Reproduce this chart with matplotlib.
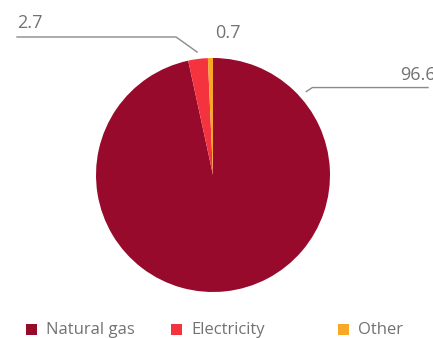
import matplotlib.pyplot as plt
import matplotlib.patches as mpatches
import numpy as np

plt.rcParams['font.family'] = ['Open Sans', 'DejaVu Sans']

# energy consumption shares, %
sources = ['Natural gas', 'Electricity', 'Other']
shares = [96.6, 2.7, 0.7]
colors = ['#970A2C', '#F5333F', '#F9A825']

W, H = 433, 338
fig = plt.figure(figsize=(W / 100, H / 100), dpi=100)
ax = fig.add_axes([0, 0, 1, 1])

cx, cy, r = 213, H - 175, 117
wedges, _ = ax.pie(shares, colors=colors, startangle=90, counterclock=False,
                   center=(cx, cy), radius=r, frame=True,
                   wedgeprops=dict(linewidth=0))
ax.set_xlim(0, W)
ax.set_ylim(0, H)
ax.set_aspect('equal')
ax.axis('off')

grey = '#727272'
line_kw = dict(color='#8a8a8a', lw=1)

# Natural gas label: leader line to the right
a = np.deg2rad(41.8)
x0, y0 = cx + 1.07 * r * np.cos(a), cy + 1.07 * r * np.sin(a)
ax.plot([x0, x0 + 6, 428], [y0, y0 + 4, y0 + 4], **line_kw)
ax.text(400, y0 + 8, f'{shares[0]:.1f}', color=grey, fontsize=13,
        ha='left', va='bottom')

# Electricity label: leader line to the left
t1 = wedges[1].theta1
t2 = wedges[1].theta2
a = np.deg2rad((t1 + t2) / 2)
x0, y0 = cx + 1.06 * r * np.cos(a), cy + 1.06 * r * np.sin(a)
x1, y1 = cx + 1.22 * r * np.cos(np.deg2rad(105)), H - 37
ax.plot([x0, x1, 17], [y0, y1, y1], **line_kw)
ax.text(17, y1 + 5, f'{shares[1]:.1f}', color=grey, fontsize=13,
        ha='left', va='bottom')

# Other label: no leader line
ax.text(215, H - 42, f'{shares[2]:.1f}', color=grey, fontsize=13,
        ha='left', va='bottom')

# legend row
leg_x = [26, 171, 338]
for x, name, c in zip(leg_x, sources, colors):
    ax.add_patch(mpatches.Rectangle((x, 3), 11, 11, color=c, lw=0))
    ax.text(x + 20, 8, name, color=grey, fontsize=12, ha='left', va='center')

fig.savefig('out.png', dpi=100)
